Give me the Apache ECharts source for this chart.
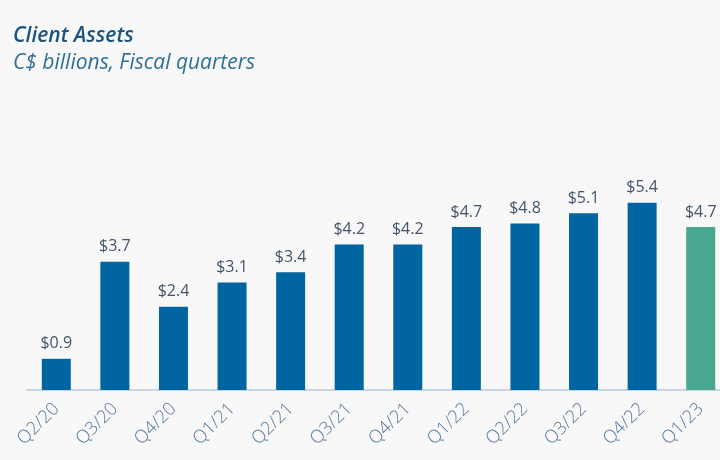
<!DOCTYPE html>
<html>
<head>
<meta charset="utf-8">
<script src="https://cdn.jsdelivr.net/npm/echarts@6/dist/echarts.min.js"></script>
<style>
  html, body { margin: 0; padding: 0; background: #f8f8f8; }
  #chart { width: 720px; height: 460px; }
</style>
</head>
<body>
<div id="chart"></div>
<script>
const quarters = ['Q2/20', 'Q3/20', 'Q4/20', 'Q1/21', 'Q2/21', 'Q3/21', 'Q4/21', 'Q1/22', 'Q2/22', 'Q3/22', 'Q4/22', 'Q1/23']
const assets = [0.9, 3.7, 2.4, 3.1, 3.4, 4.2, 4.2, 4.7, 4.8, 5.1, 5.4, 4.7]

const BLUE = '#0065a0'
const TEAL = '#48a88f'

const chart = echarts.init(document.getElementById('chart'))

chart.setOption({
  backgroundColor: '#f8f8f8',
  title: {
    text: 'Client Assets',
    subtext: 'C$ billions, Fiscal quarters',
    left: 8,
    top: 21,
    itemGap: 6,
    textStyle: {
      fontFamily: 'Open Sans',
      fontStyle: 'italic',
      fontWeight: 600,
      fontSize: 21,
      color: '#1b5480'
    },
    subtextStyle: {
      fontFamily: 'Open Sans',
      fontStyle: 'italic',
      fontSize: 21,
      color: '#2f6f97'
    }
  },
  grid: { left: 27, right: -10, top: 182, bottom: 70, outerBoundsMode: 'none' },
  xAxis: {
    type: 'category',
    data: quarters,
    axisLine: { lineStyle: { color: '#c9d5e4', width: 2 } },
    axisTick: { show: false },
    axisLabel: {
      rotate: 45,
      interval: 0,
      margin: 16,
      fontFamily: 'Open Sans',
      fontWeight: 300,
      fontSize: 18,
      color: '#56779c'
    }
  },
  yAxis: {
    type: 'value',
    min: 0,
    max: 6,
    show: false
  },
  series: [{
    type: 'bar',
    barWidth: 29,
    data: assets.map((v, i) => ({
      value: v,
      itemStyle: { color: i === assets.length - 1 ? TEAL : BLUE }
    })),
    label: {
      show: true,
      position: 'top',
      distance: 7,
      formatter: p => '$' + p.value.toFixed(1),
      fontFamily: 'Open Sans',
      fontSize: 16,
      color: '#44546a'
    }
  }]
})
</script>
</body>
</html>
